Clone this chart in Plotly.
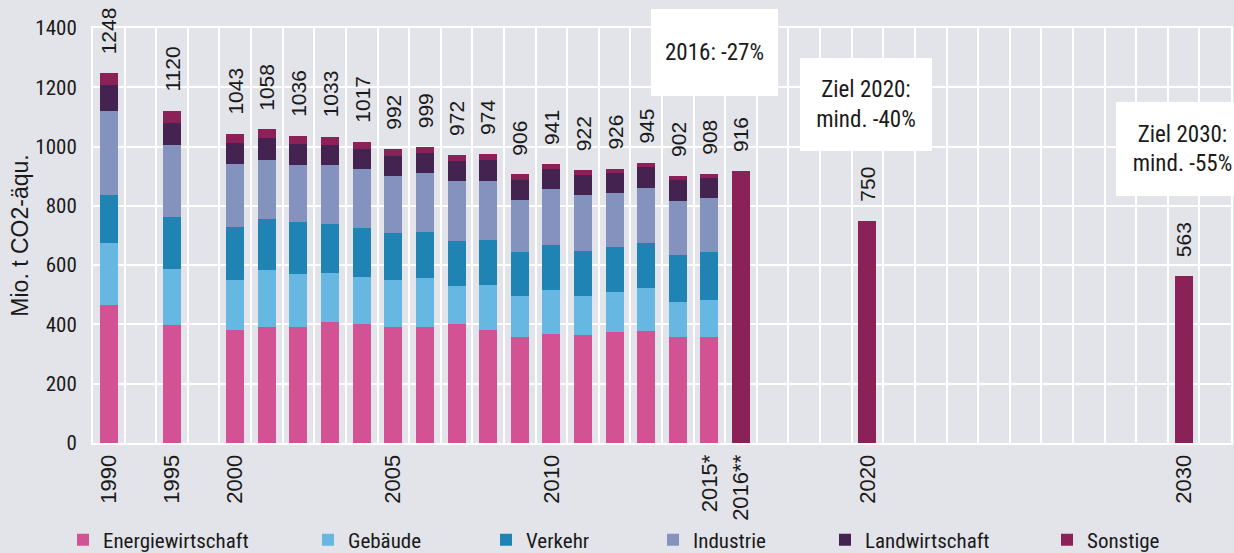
import plotly.graph_objects as go

# ---------------- data ----------------
categories = (["1990", "gap1", "1995", "gap2"]
              + ["2000", "2001", "2002", "2003", "2004", "2005", "2006", "2007",
                 "2008", "2009", "2010", "2011", "2012", "2013", "2014"]
              + ["2015*", "2016**"]
              + ["2017", "2018", "2019", "2020", "2021", "2022", "2023", "2024",
                 "2025", "2026", "2027", "2028", "2029", "2030", "2031"])
tick_labels = {"1990": "1990", "1995": "1995", "2000": "2000", "2005": "2005",
               "2010": "2010", "2015*": "2015*", "2016**": "2016**",
               "2020": "2020", "2030": "2030"}

hist_years = ["1990", "1995", "2000", "2001", "2002", "2003", "2004", "2005",
              "2006", "2007", "2008", "2009", "2010", "2011", "2012", "2013",
              "2014", "2015*"]
energiewirtschaft = [465, 397, 382, 393, 393, 407, 401, 393, 393, 401, 382, 356, 367, 365, 376, 379, 356, 356]
gebaeude = [209, 191, 169, 190, 178, 168, 159, 158, 165, 129, 152, 141, 150, 132, 132, 143, 119, 127]
verkehr = [163, 174, 178, 174, 173, 165, 165, 157, 155, 150, 151, 147, 152, 152, 152, 154, 160, 161]
industrie = [284, 244, 211, 198, 194, 198, 199, 193, 199, 205, 200, 176, 188, 188, 183, 184, 182, 184]
landwirtschaft = [87, 75, 71, 73, 71, 69, 67, 68, 66, 68, 70, 68, 68, 67, 67, 70, 71, 65]
sonstige = [40, 39, 32, 30, 27, 26, 26, 23, 21, 19, 19, 18, 16, 18, 16, 15, 14, 15]
hist_totals = [1248, 1120, 1043, 1058, 1036, 1033, 1017, 992, 999, 972, 974, 906, 941, 922, 926, 945, 902, 908]

proj_years = ["2016**", "2020", "2030"]
proj_totals = [916, 750, 563]

series_names = ["Energiewirtschaft", "Gebäude", "Verkehr", "Industrie", "Landwirtschaft", "Sonstige"]
series_values = [energiewirtschaft, gebaeude, verkehr, industrie, landwirtschaft, sonstige]
series_colors = ["#D35293", "#66B8E3", "#1F84B4", "#8493BE", "#452350", "#8A2258"]

box_texts = ["2016: -27%", "Ziel 2020:<br>mind. -40%", "Ziel 2030:<br>mind. -55%"]

# ---------------- styling ----------------
NARROW = "Roboto Condensed, Roboto, Liberation Sans, sans-serif"
REG = "Liberation Sans, Arial, sans-serif"
TXT = "#1a1a1a"
BG = "#E3E4E9"
BAR_W = 0.57

# plot-area geometry in px
L, R, T, B = 93, 1231, 28, 443
W, H = 1234, 553


def px_x(px):
    return (px - L) / (R - L)


def px_y(py):
    return (B - py) / (B - T)


fig = go.Figure()
legend_text_px = [103, 348, 526, 693, 865, 1087]
for i, (name, vals, col) in enumerate(zip(series_names, series_values, series_colors)):
    lg = "legend" if i == 0 else f"legend{i + 1}"
    fig.add_trace(go.Bar(x=hist_years, y=vals, name=name, marker_color=col,
                         marker_line_width=0, width=BAR_W, legend=lg))

fig.add_trace(go.Bar(x=proj_years, y=proj_totals, name="Gesamt", marker_color=series_colors[-1],
                     marker_line_width=0, width=BAR_W, showlegend=False))

annotations = []
for x, t in zip(hist_years + proj_years, hist_totals + proj_totals):
    annotations.append(dict(x=categories.index(x), y=t, xref="x", yref="y", text=str(t),
                            textangle=-90, showarrow=False, xanchor="center", yanchor="bottom",
                            yshift=17, font=dict(family=REG, size=21, color=TXT)))

# boxes: (center x px, center y px, width, height)
box_geo = [(714, 53, 127, 87), (866, 105, 132, 93), (1182, 149, 133, 94)]
for txt, (cx, cy, bw, bh) in zip(box_texts, box_geo):
    annotations.append(dict(x=px_x(cx), y=px_y(cy), xref="paper", yref="paper", text=txt,
                            showarrow=False, xanchor="center", yanchor="middle",
                            width=bw, height=bh, bgcolor="white", borderpad=0, borderwidth=0,
                            align="center", valign="middle",
                            font=dict(family=NARROW, size=23, color=TXT)))

layout_legends = {}
for i, tx in enumerate(legend_text_px):
    key = "legend" if i == 0 else f"legend{i + 1}"
    layout_legends[key] = dict(x=px_x(tx - 40), y=px_y(540), xanchor="left", yanchor="middle",
                               orientation="h", bgcolor="rgba(0,0,0,0)", borderwidth=0,
                               font=dict(family=NARROW, size=21, color=TXT),
                               itemclick=False, itemdoubleclick=False)

fig.update_layout(
    width=W, height=H, autosize=False,
    margin=dict(l=L, r=W - R, t=T, b=H - B, pad=0, autoexpand=False),
    paper_bgcolor=BG, plot_bgcolor=BG,
    barmode="stack", bargap=0.43,
    annotations=annotations,
    **layout_legends,
)

fig.update_xaxes(
    type="category", categoryorder="array", categoryarray=categories,
    range=[-0.5, len(categories) - 0.5],
    tickmode="array", tickvals=categories,
    ticktext=[tick_labels.get(c, "") for c in categories],
    tickangle=-90, tickson="boundaries", ticks="",
    showgrid=True, gridcolor="white", gridwidth=1.5,
    showline=True, linecolor="white", linewidth=2, mirror=True,
    tickfont=dict(family=REG, size=22, color=TXT),
    ticklabelstandoff=1, fixedrange=True, automargin=False,
)
fig.update_yaxes(
    range=[0, 1400], dtick=200, tick0=0,
    showgrid=True, gridcolor="white", gridwidth=1.5, zeroline=False,
    showline=True, linecolor="white", linewidth=2, mirror=True,
    tickfont=dict(family=NARROW, size=21, color=TXT),
    ticklabelstandoff=10, ticks="",
    title=dict(text="Mio. t CO2-äqu.", font=dict(family=REG, size=23, color=TXT), standoff=0),
    fixedrange=True, automargin=False,
)

fig.write_html("out.html", config={"displayModeBar": False},
               post_script="document.body.style.margin='0';document.body.style.overflow='hidden';")
